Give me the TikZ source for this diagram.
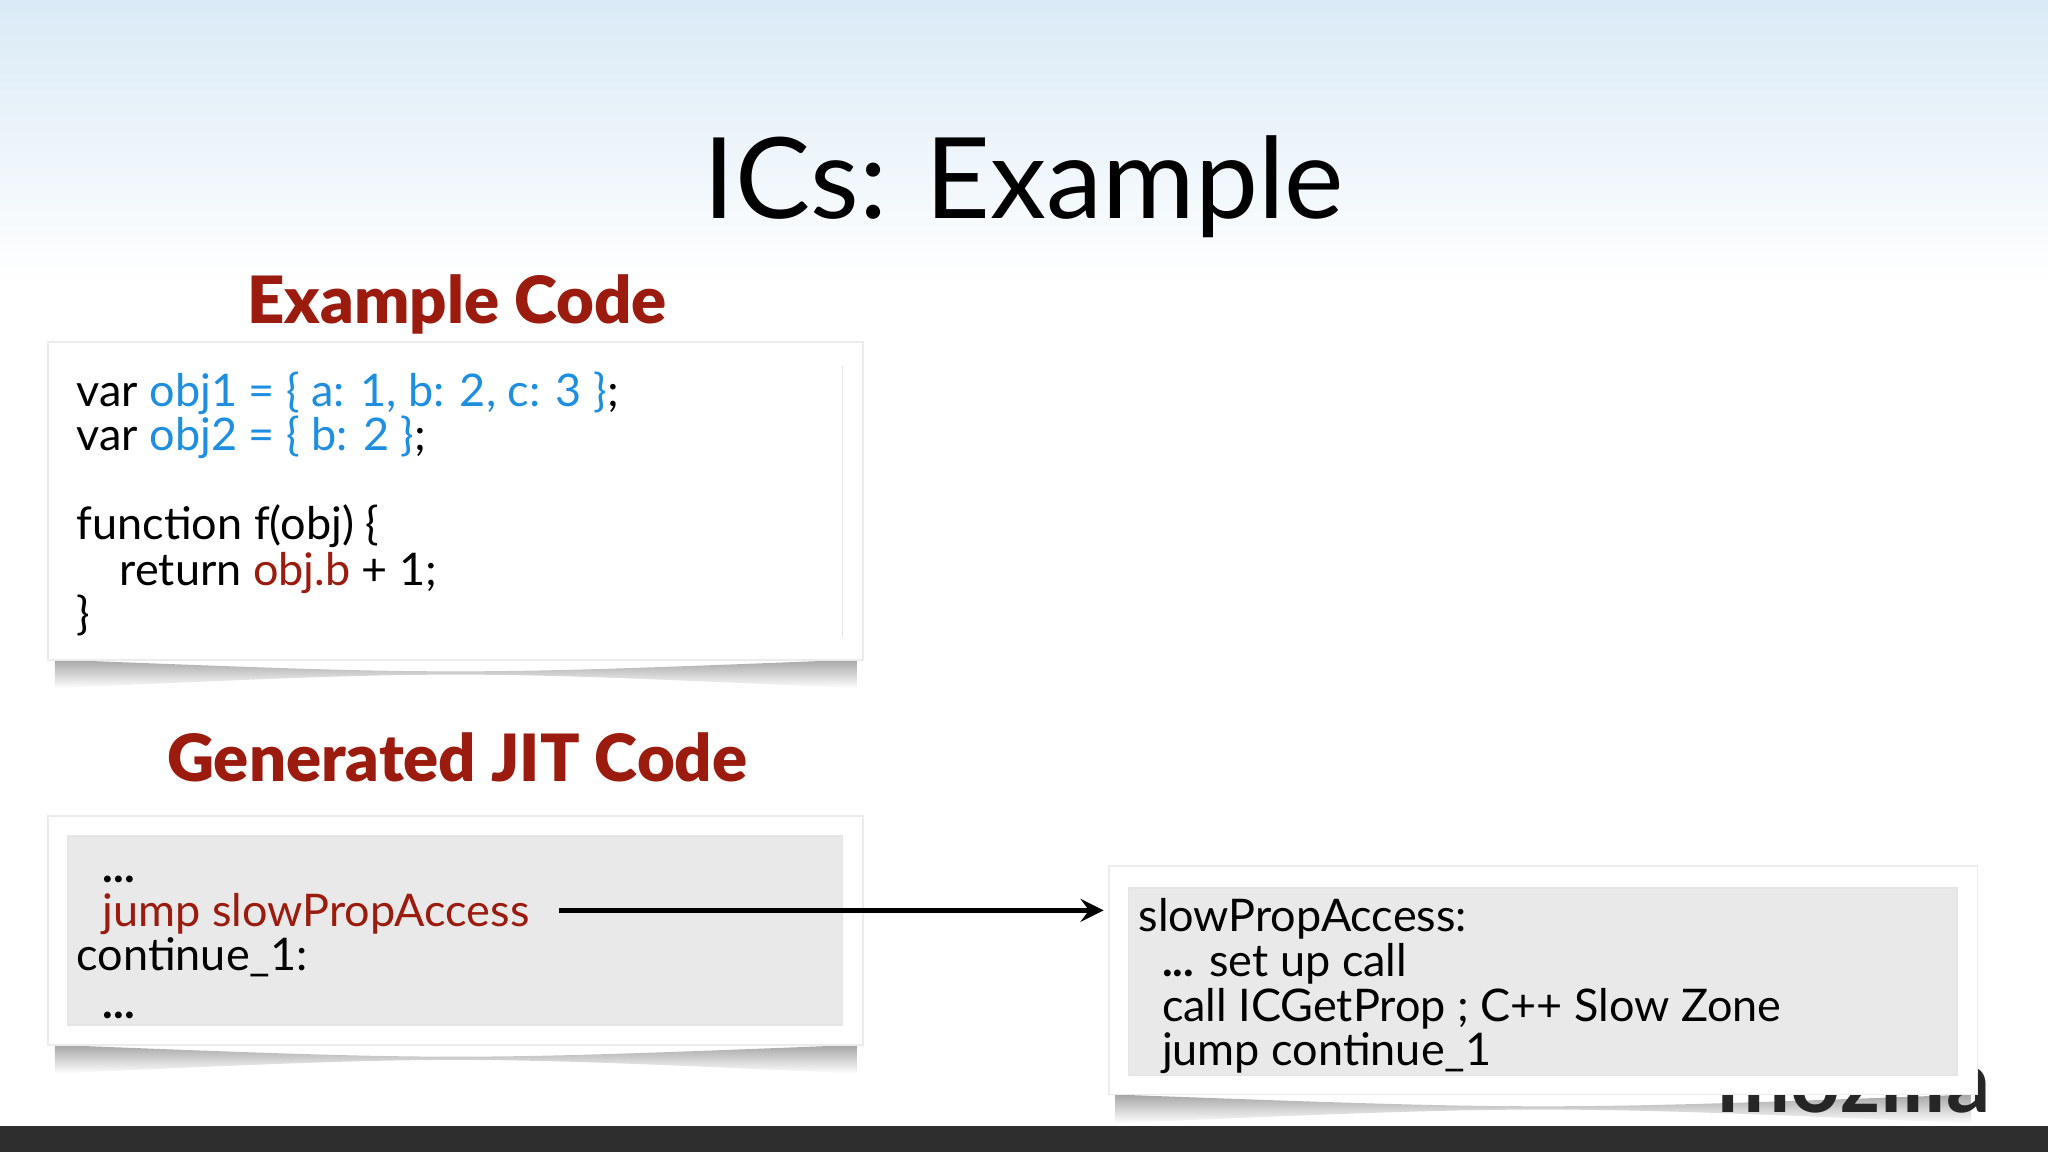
\documentclass[tikz,border=0pt]{standalone}
\usepackage{fontspec}
\setmainfont{Lato}
\newfontfamily\headfont{Lato Black}
\definecolor{dred}{HTML}{9B1B0E}
\definecolor{cblue}{HTML}{1E8FE0}
\definecolor{inner}{HTML}{E9E9E9}
\tikzset{
  code/.style={anchor=base west,font=\fontsize{9.8}{11}\selectfont,inner sep=0pt},
  head/.style={font=\headfont\fontsize{14.2}{16}\selectfont,text=dred},
  card/.style={fill=white,draw=gray!15},
  innerbox/.style={fill=inner,draw=gray!20}
}
\begin{document}
\begin{tikzpicture}[x=0.1mm,y=-0.1mm]
\useasboundingbox (0,0) rectangle (1568,882);
\shade[top color={rgb,255:red,218;green,234;blue,246},bottom color=white] (0,0) rectangle (1568,220);
\node[font=\fontsize{24.5}{28}\selectfont] (title) at (784,143) {ICs: Example};
\node[head] (h1) at (350,233) {Example Code};
\node[head] (h2) at (350,580) {Generated JIT Code};
% shadows
\foreach \a/\b/\c in {37/661/505,37/661/800,849/1514/838}{
  \shade[top color=gray!70,bottom color=white] (\a+5,\c) .. controls ({(\a+\b)/2},\c+12) .. (\b-5,\c) -- (\b-5,\c+22) .. controls ({(\a+\b)/2},\c+8) .. (\a+5,\c+22) -- cycle;
}
% box1
\draw[card] (37,262) rectangle (661,505);
\draw[gray!20] (645,280) -- (645,488);
\node[code] (l1) at (58,311) {var \textcolor{cblue}{obj1 = \{ a: 1, b: 2, c: 3 \}};};
\node[code] (l2) at (58,345) {var \textcolor{cblue}{obj2 = \{ b: 2 \}};};
\node[code] (l3) at (58,413) {function f(obj) \{};
\node[code] (l4) at (91,448) {return \textcolor{dred}{obj.b} + 1;};
\node[code] (l5) at (58,482) {\}};
% box2
\draw[card] (37,625) rectangle (661,800);
\draw[innerbox] (52,640) rectangle (645,785);
\node[code] (j1) at (78,676) {\textbf{...}};
\node[code,text=dred] (j2) at (78,709) {jump slowPropAccess};
\node[code] (j3) at (58,743) {continue\_1:};
\node[code] (j4) at (78,780) {\textbf{...}};
% mozilla
\node[font=\bfseries\fontsize{19}{21}\selectfont,text=black!85,anchor=base east] (moz) at (1536,852) {mozilla};
% box3
\draw[card] (849,663) rectangle (1514,838);
\draw[innerbox] (864,680) rectangle (1498,823);
\node[code] (s1) at (871,713) {slowPropAccess:};
\node[code] (s2) at (889,748) {\textbf{...} set up call};
\node[code] (s3) at (889,782) {call ICGetProp ; C++ Slow Zone};
\node[code] (s4) at (889,816) {jump continue\_1};
\coordinate (a0) at (428,697);
\coordinate (a1) at (845,697);
\draw[-stealth,line width=1.2pt] (a0) -- (a1);
\fill[black!82] (0,862) rectangle (1568,882);
\end{tikzpicture}
\end{document}
